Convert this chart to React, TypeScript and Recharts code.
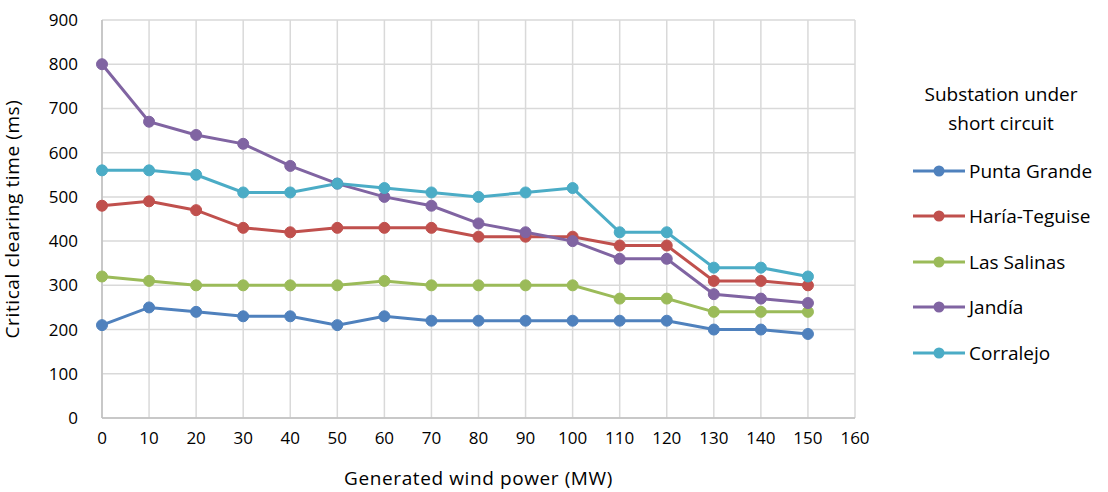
import React from 'react';
import {
  LineChart,
  Line,
  XAxis,
  YAxis,
  CartesianGrid,
} from 'recharts';

const windPower = [0, 10, 20, 30, 40, 50, 60, 70, 80, 90, 100, 110, 120, 130, 140, 150];
const puntaGrande = [210, 250, 240, 230, 230, 210, 230, 220, 220, 220, 220, 220, 220, 200, 200, 190];
const hariaTeguise = [480, 490, 470, 430, 420, 430, 430, 430, 410, 410, 410, 390, 390, 310, 310, 300];
const lasSalinas = [320, 310, 300, 300, 300, 300, 310, 300, 300, 300, 300, 270, 270, 240, 240, 240];
const jandia = [800, 670, 640, 620, 570, 530, 500, 480, 440, 420, 400, 360, 360, 280, 270, 260];
const corralejo = [560, 560, 550, 510, 510, 530, 520, 510, 500, 510, 520, 420, 420, 340, 340, 320];

const xTicks = [0, 10, 20, 30, 40, 50, 60, 70, 80, 90, 100, 110, 120, 130, 140, 150, 160];
const yTicks = [0, 100, 200, 300, 400, 500, 600, 700, 800, 900];

const series = [
  { key: 'puntaGrande', name: 'Punta Grande', color: '#4f81bd' },
  { key: 'hariaTeguise', name: 'Haría-Teguise', color: '#c0504d' },
  { key: 'lasSalinas', name: 'Las Salinas', color: '#9bbb59' },
  { key: 'jandia', name: 'Jandía', color: '#8064a2' },
  { key: 'corralejo', name: 'Corralejo', color: '#4bacc6' },
];

const data = windPower.map((mw, i) => ({
  mw,
  puntaGrande: puntaGrande[i],
  hariaTeguise: hariaTeguise[i],
  lasSalinas: lasSalinas[i],
  jandia: jandia[i],
  corralejo: corralejo[i],
}));

const FONT = '"Open Sans", sans-serif';

// legend drawn next to the chart, Excel style
function LegendBox() {
  return (
    <div
      style={{
        position: 'absolute',
        left: 908,
        top: 80,
        fontFamily: FONT,
        fontSize: 19,
        color: '#000',
      }}
    >
      <div style={{ textAlign: 'center', width: 186, lineHeight: '29px', marginBottom: 10 }}>
        Substation under
        <br />
        short circuit
      </div>
      {series.map((s) => (
        <div key={s.key} style={{ display: 'flex', alignItems: 'center', height: 45.5, whiteSpace: 'nowrap' }}>
          <svg width={58} height={14}>
            <line x1={5} y1={7} x2={57} y2={7} stroke={s.color} strokeWidth={3} />
            <circle cx={31} cy={7} r={5.5} fill={s.color} />
          </svg>
          <span style={{ marginLeft: 3 }}>{s.name}</span>
        </div>
      ))}
    </div>
  );
}

export default function App() {
  return (
    <div style={{ position: 'absolute', left: 0, top: 0, width: 1108, height: 492, background: '#fff', overflow: 'hidden' }}>
      <LineChart
        width={1108}
        height={492}
        data={data}
        margin={{ top: 20, right: 253, left: 0, bottom: 0 }}
      >
        <CartesianGrid stroke="#d9d9d9" strokeWidth={1.5} />
        <XAxis
          dataKey="mw"
          type="number"
          domain={[0, 160]}
          ticks={xTicks}
          interval={0}
          height={74}
          tickLine={false}
          axisLine={{ stroke: '#bfbfbf', strokeWidth: 1.5 }}
          tick={{ fill: '#000', fontSize: 17, fontFamily: FONT }}
          tickMargin={8}
          label={{
            value: 'Generated wind power (MW)',
            position: 'insideBottom',
            offset: 7,
            fill: '#000',
            fontSize: 19,
            letterSpacing: 0.6,
            fontFamily: FONT,
          }}
        />
        <YAxis
          type="number"
          domain={[0, 900]}
          ticks={yTicks}
          interval={0}
          width={102}
          tickLine={false}
          axisLine={{ stroke: '#bfbfbf', strokeWidth: 1.5 }}
          tick={{ fill: '#000', fontSize: 17, fontFamily: FONT }}
          tickMargin={18}
          label={{
            value: 'Critical clearing time (ms)',
            angle: -90,
            position: 'insideLeft',
            offset: 12,
            style: { textAnchor: 'middle', letterSpacing: 0.6 },
            fill: '#000',
            fontSize: 19,
            fontFamily: FONT,
          }}
        />
        {series.map((s) => (
          <Line
            key={s.key}
            type="linear"
            dataKey={s.key}
            name={s.name}
            stroke={s.color}
            strokeWidth={3}
            dot={{ r: 5.5, fill: s.color, stroke: s.color, strokeWidth: 1 }}
            isAnimationActive={false}
          />
        ))}
      </LineChart>
      <LegendBox />
    </div>
  );
}
